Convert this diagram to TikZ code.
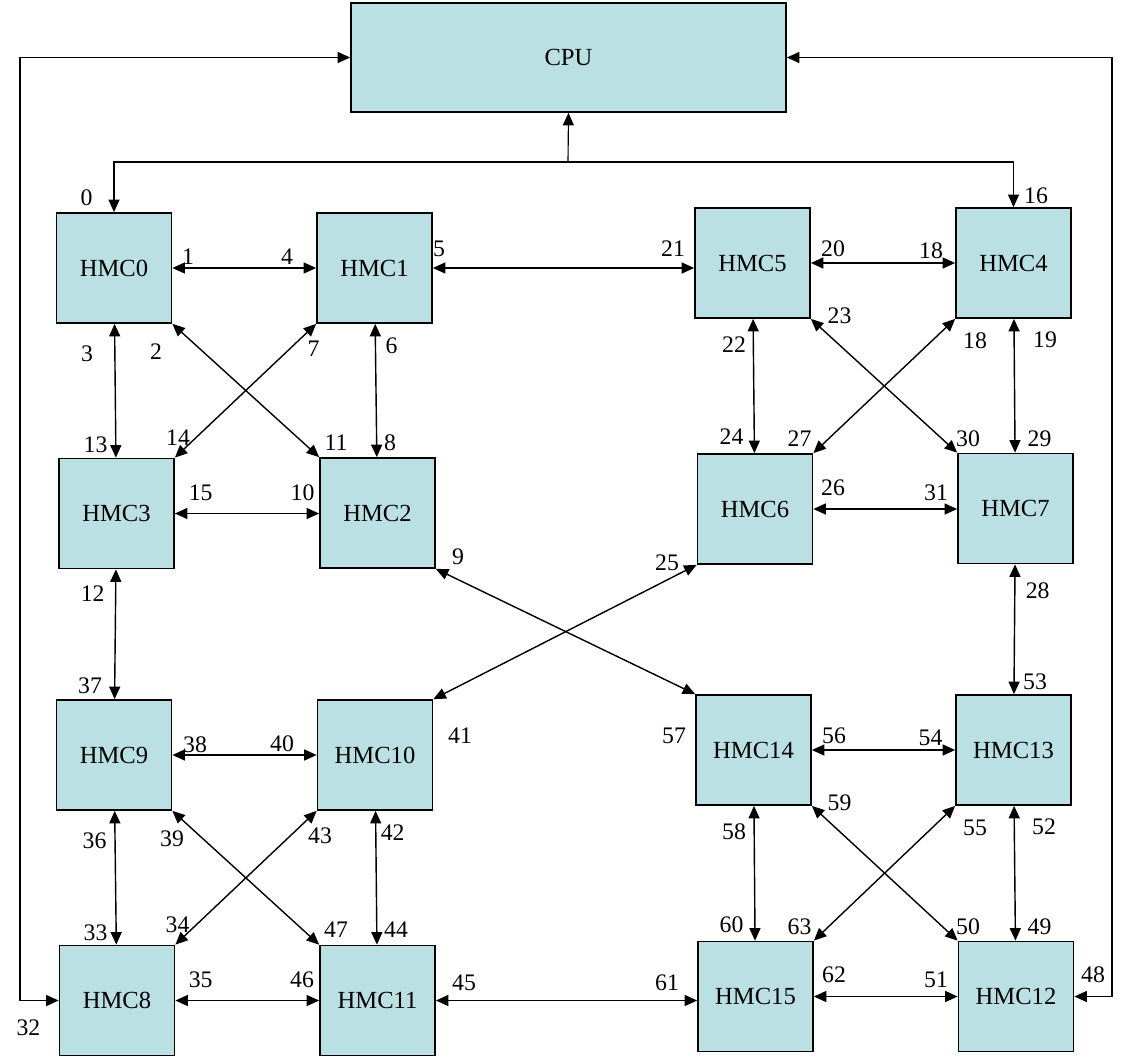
\documentclass[tikz,border=0pt]{standalone}
\usepackage{fontspec}
\setmainfont{Liberation Serif}
\usetikzlibrary{arrows.meta}

\definecolor{hmcfill}{RGB}{187,224,227}

\tikzset{
  hmc/.style={draw, line width=1pt, fill=hmcfill, minimum width=2.3cm,
    minimum height=2.2cm, inner sep=0pt, font=\fontsize{14}{16}\selectfont},
  num/.style={inner sep=0pt, font=\fontsize{13.5}{15}\selectfont},
  tip/.tip={Triangle[length=0.25cm,width=0.22cm]},
  link/.style={line width=0.8pt, tip-tip},
  feed/.style={line width=0.65pt, -tip},
  bus/.style={line width=0.65pt, tip-tip}
}

\begin{document}
\begin{tikzpicture}[x=0.02cm,y=-0.02cm]

\useasboundingbox (0,0) rectangle (1135,1058);

% CPU
\node[hmc, minimum width=8.7cm, minimum height=2.18cm] (cpu) at (568.5,57.5) {CPU};

% HMC cubes
\foreach \n/\x/\y in {0/114/268, 1/374.5/268, 5/752.5/263, 4/1013.5/263,
                      3/116.5/513.5, 2/377.5/513, 6/755/509, 7/1015.5/508.5,
                      9/114/755, 10/375/755, 14/753.5/750, 13/1013.5/750,
                      8/117/1000.5, 11/377.5/1000.5, 15/755.5/996.5, 12/1016/996.5}{
  \node[hmc] (hmc\n) at (\x,\y) {HMC\n};
}

% CPU to HMC0 and HMC4
\coordinate (split) at (568,162);
\draw[feed] (split) -- (cpu.south);
\draw[feed] (split) -| (hmc0.north);
\draw[feed] (split) -| (hmc4.north);

% outer loops to HMC8 and HMC12
\coordinate (lbus) at (20,0);
\coordinate (rbus) at (1112,0);
\draw[bus] (hmc8.west) -| (lbus |- cpu.west) -- (cpu.west);
\draw[bus] (hmc12.east) -| (rbus |- cpu.east) -- (cpu.east);

% horizontal links
\foreach \a/\b in {0/1, 1/5, 5/4, 3/2, 6/7, 9/10, 14/13, 8/11, 11/15, 15/12}{
  \draw[link] (hmc\a.east) -- (hmc\a.east -| hmc\b.west);
}

% vertical links
\foreach \a/\b in {0/3, 1/2, 5/6, 4/7, 3/9, 7/13, 9/8, 10/11, 14/15, 13/12}{
  \draw[link] (hmc\a) -- (hmc\b);
}

% diagonal links
\foreach \a/\p/\b/\q in {0/south east/2/north west, 1/south west/3/north east,
                         5/south east/7/north west, 4/south west/6/north east,
                         9/south east/11/north west, 10/south west/8/north east,
                         14/south east/12/north west, 13/south west/15/north east,
                         2/south east/14/north west, 6/south west/10/north east}{
  \draw[link] (hmc\a.\p) -- (hmc\b.\q);
}

% port numbers
\foreach \t/\x/\y [count=\i] in {0/86.5/198, 1/188/257, 4/287/257, 5/439/249,
    21/673/249, 20/833/249, 18/931/251, 16/1036/196,
    3/87/354, 2/156/352, 7/313.5/349, 6/391.6/346,
    23/839.5/316, 22/734/345, 18/975/341, 19/1045/339.5,
    13/95.6/445, 14/178/438, 11/336/443, 8/390/443,
    24/731.5/437, 27/799.5/439, 30/968/439, 29/1039.5/439,
    15/200.7/493, 10/302.5/493, 26/833/488, 31/936/493,
    9/458/557, 25/667/563, 12/92.7/594, 28/1037.7/591,
    37/90/686, 53/1035/682, 41/460/736, 38/195/744.5, 40/282/743.5,
    57/674/736, 56/834/736, 54/930.5/738, 59/839.5/803,
    36/94.5/841, 39/172/839, 43/320/836, 42/392.7/833,
    58/734/832, 55/975/828, 52/1044/827,
    33/95.6/933, 34/177.5/925, 47/336/930, 44/396/930,
    60/731.5/925, 63/799.5/927, 50/968/927, 49/1039.5/927,
    35/200.7/980, 46/302/980, 45/464/983, 61/667/983,
    62/834/975, 51/936/980, 48/1093/975, 32/28.4/1028}{
  \node[num] (port\i) at (\x,\y) {\t};
}

\end{tikzpicture}
\end{document}
